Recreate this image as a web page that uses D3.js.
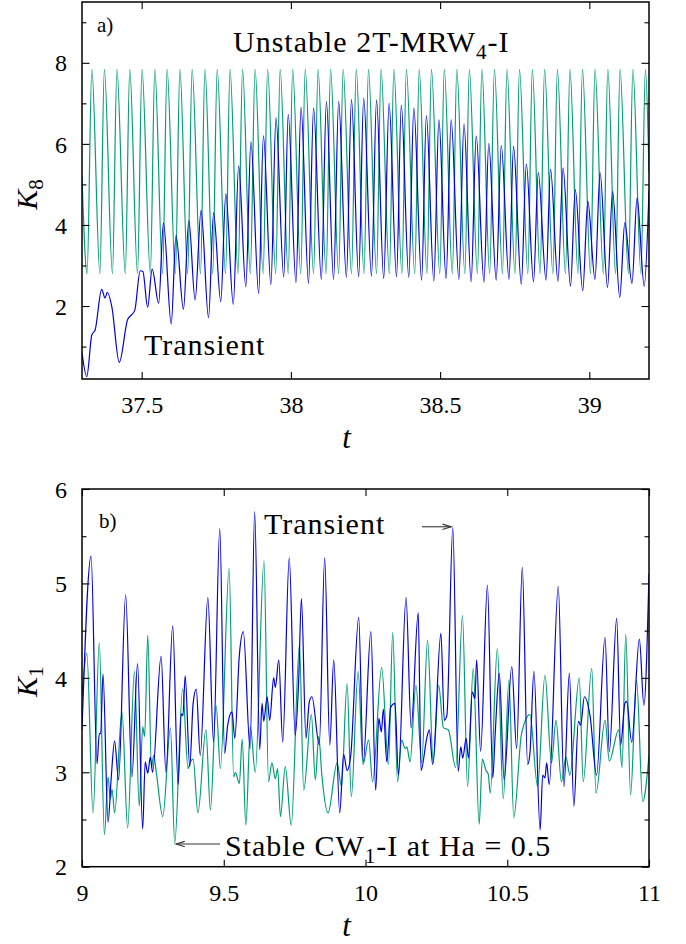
<!DOCTYPE html>
<html>
<head>
<meta charset="utf-8">
<script src="https://cdn.jsdelivr.net/npm/d3@7"></script>
<style>
  body { margin: 0; background: #fff; }
  text { font-family: "Liberation Serif", "DejaVu Serif", serif; fill: #000; }
</style>
</head>
<body>
<svg id="fig" width="686" height="944"></svg>
<script>
// ── Panel a) data: K8 vs t (peaks / troughs read off the figure) ────────────
const tTicksA  = [37.5, 38, 38.5, 39];
const kTicksA  = [2, 4, 6, 8];
const kMinorA  = [1, 3, 5, 7, 9];

// unstable 2T-MRW4-I (green)
const greenA = [[37.300,5.20],[37.317,2.80],[37.333,7.84],[37.360,2.80],[37.375,7.84],[37.402,2.80],[37.417,7.84],[37.445,2.80],[37.460,7.84],[37.486,2.80],[37.501,7.84],[37.529,2.80],[37.544,7.84],[37.570,2.80],[37.585,7.84],[37.613,2.80],[37.628,7.84],[37.654,2.80],[37.669,7.84],[37.697,2.80],[37.712,7.84],[37.738,2.80],[37.753,7.84],[37.781,2.80],[37.796,7.84],[37.823,2.80],[37.838,7.84],[37.864,2.80],[37.880,7.84],[37.907,2.80],[37.922,7.84],[37.949,2.80],[37.964,7.84],[37.991,2.80],[38.006,7.84],[38.033,2.80],[38.048,7.84],[38.076,2.80],[38.091,7.84],[38.118,2.80],[38.133,7.84],[38.160,2.80],[38.175,7.84],[38.203,2.80],[38.219,7.84],[38.245,2.80],[38.260,7.84],[38.287,2.80],[38.302,7.84],[38.330,2.80],[38.345,7.84],[38.372,2.80],[38.387,7.84],[38.415,2.80],[38.430,7.84],[38.456,2.80],[38.471,7.84],[38.499,2.80],[38.514,7.84],[38.541,2.80],[38.556,7.84],[38.583,2.80],[38.598,7.84],[38.625,2.80],[38.640,7.84],[38.666,2.80],[38.682,7.84],[38.709,2.80],[38.724,7.84],[38.751,2.80],[38.766,7.84],[38.794,2.80],[38.809,7.84],[38.835,2.80],[38.850,7.84],[38.878,2.80],[38.893,7.84],[38.920,2.80],[38.935,7.84],[38.962,2.80],[38.977,7.84],[39.004,2.80],[39.019,7.84],[39.047,2.80],[39.062,7.84],[39.088,2.80],[39.103,7.84],[39.131,2.80],[39.146,7.84],[39.173,2.80],[39.188,7.84],[39.200,5.30]];

// transient (blue)
const blueA = [[37.300,0.85],[37.316,0.26],[37.333,1.29],[37.344,1.41],[37.366,2.41],[37.377,2.20],[37.385,2.34],[37.400,1.98],[37.425,0.61],[37.453,1.67],[37.466,1.78],[37.477,1.90],[37.495,2.87],[37.504,2.85],[37.520,1.97],[37.535,2.91],[37.557,2.07],[37.573,4.05],[37.599,1.56],[37.615,3.74],[37.640,1.92],[37.658,4.11],[37.679,2.15],[37.699,4.36],[37.724,1.71],[37.741,4.30],[37.765,2.11],[37.782,4.77],[37.807,2.04],[37.825,5.46],[37.849,2.47],[37.866,6.05],[37.892,2.31],[37.908,6.20],[37.933,2.53],[37.950,6.64],[37.976,2.72],[37.991,6.72],[38.017,2.58],[38.034,6.90],[38.059,2.56],[38.076,6.88],[38.102,2.66],[38.119,7.04],[38.143,2.66],[38.160,7.04],[38.186,2.71],[38.203,7.09],[38.227,2.72],[38.244,7.13],[38.270,2.74],[38.287,7.08],[38.311,2.68],[38.329,7.00],[38.354,2.72],[38.370,6.95],[38.395,2.71],[38.412,6.88],[38.438,2.64],[38.454,6.70],[38.479,2.62],[38.496,6.59],[38.520,2.68],[38.537,6.59],[38.563,2.66],[38.580,6.49],[38.604,2.60],[38.621,6.19],[38.647,2.59],[38.663,6.01],[38.688,2.64],[38.705,5.96],[38.731,2.66],[38.746,5.94],[38.772,2.54],[38.789,5.51],[38.813,2.60],[38.829,5.29],[38.855,2.64],[38.870,5.38],[38.895,2.61],[38.912,5.41],[38.937,2.49],[38.953,4.87],[38.978,2.38],[38.995,4.59],[39.019,2.66],[39.036,5.29],[39.061,2.46],[39.078,4.83],[39.102,2.21],[39.119,4.06],[39.143,2.56],[39.160,4.67],[39.184,2.49],[39.200,4.85]];

// ── Panel b) data: K1 vs t ──────────────────────────────────────────────────
const tTicksB = [9, 9.5, 10, 10.5, 11];
const kTicksB = [2, 3, 4, 5, 6];
const kMinorB = [2.5, 3.5, 4.5, 5.5];

// stable CW1-I at Ha = 0.5 (green)
const greenB = [[9.000,3.80],[9.017,4.26],[9.039,2.57],[9.061,4.37],[9.079,2.34],[9.092,2.95],[9.100,2.72],[9.106,2.82],[9.115,2.57],[9.141,3.64],[9.161,2.41],[9.185,4.07],[9.202,2.64],[9.214,3.48],[9.221,3.38],[9.232,4.45],[9.245,3.05],[9.253,3.18],[9.262,3.00],[9.285,2.53],[9.312,3.47],[9.327,2.25],[9.355,3.88],[9.374,3.04],[9.382,3.11],[9.392,3.14],[9.409,2.57],[9.437,3.45],[9.453,2.60],[9.473,3.71],[9.488,3.04],[9.519,5.16],[9.535,2.95],[9.541,3.00],[9.555,2.88],[9.565,3.35],[9.578,2.44],[9.594,3.48],[9.611,3.00],[9.642,5.24],[9.658,2.90],[9.670,3.10],[9.682,2.93],[9.690,3.04],[9.700,2.53],[9.717,3.06],[9.738,2.44],[9.767,4.35],[9.782,2.81],[9.809,3.61],[9.823,2.92],[9.835,3.38],[9.846,2.97],[9.868,2.57],[9.900,3.10],[9.915,2.85],[9.935,3.94],[9.950,2.74],[9.974,4.07],[9.991,3.08],[10.011,3.34],[10.025,2.90],[10.057,4.11],[10.081,3.08],[10.096,4.48],[10.113,2.90],[10.128,3.34],[10.140,3.25],[10.146,3.27],[10.157,3.11],[10.178,3.92],[10.198,3.10],[10.219,4.40],[10.239,3.10],[10.258,3.92],[10.275,3.47],[10.292,3.45],[10.318,3.05],[10.342,4.66],[10.360,2.85],[10.380,4.10],[10.401,2.45],[10.412,3.14],[10.425,3.02],[10.433,2.98],[10.440,2.78],[10.465,4.31],[10.486,2.72],[10.506,3.98],[10.523,2.52],[10.550,3.40],[10.580,3.61],[10.607,2.85],[10.633,4.03],[10.656,3.10],[10.672,3.55],[10.691,2.90],[10.707,3.16],[10.721,2.97],[10.754,4.00],[10.768,2.90],[10.798,4.10],[10.813,2.78],[10.845,3.55],[10.860,3.12],[10.893,3.45],[10.905,3.05],[10.918,4.46],[10.935,2.76],[10.956,3.98],[10.978,2.69],[11.000,3.18]];

// transient (blue)
const blueB = [[9.000,3.45],[9.032,5.29],[9.053,3.09],[9.061,3.41],[9.066,3.41],[9.074,4.04],[9.092,2.47],[9.103,2.94],[9.115,3.33],[9.129,2.92],[9.154,4.88],[9.176,2.95],[9.196,4.15],[9.214,2.40],[9.223,3.11],[9.232,2.99],[9.241,3.16],[9.249,3.00],[9.279,4.23],[9.296,3.00],[9.320,4.55],[9.339,2.87],[9.350,3.62],[9.356,3.60],[9.364,4.02],[9.380,3.06],[9.392,3.73],[9.403,3.88],[9.417,3.18],[9.444,4.85],[9.464,3.32],[9.486,5.58],[9.503,3.20],[9.514,3.50],[9.529,3.64],[9.539,3.36],[9.555,4.24],[9.569,4.49],[9.593,3.25],[9.609,5.76],[9.627,3.24],[9.635,3.73],[9.641,3.54],[9.653,3.80],[9.662,3.55],[9.676,4.00],[9.682,3.90],[9.694,4.19],[9.708,3.32],[9.731,5.27],[9.752,3.39],[9.764,3.95],[9.774,4.84],[9.790,3.36],[9.802,3.75],[9.811,3.80],[9.837,3.29],[9.856,5.27],[9.874,3.29],[9.888,4.19],[9.909,2.57],[9.923,3.19],[9.935,3.02],[9.948,3.18],[9.976,4.64],[9.992,3.11],[10.019,4.49],[10.036,2.81],[10.047,3.57],[10.056,3.43],[10.063,3.67],[10.075,3.11],[10.089,3.69],[10.104,3.73],[10.116,2.97],[10.143,4.85],[10.161,3.47],[10.186,4.69],[10.196,3.02],[10.216,3.36],[10.225,3.45],[10.237,3.08],[10.266,4.47],[10.278,3.55],[10.287,3.60],[10.308,5.59],[10.327,3.01],[10.336,3.27],[10.343,3.15],[10.355,3.36],[10.363,3.15],[10.377,3.85],[10.386,3.78],[10.392,4.19],[10.406,3.22],[10.430,4.98],[10.449,2.94],[10.457,3.38],[10.472,4.05],[10.489,2.92],[10.516,4.12],[10.533,3.25],[10.553,5.17],[10.572,3.08],[10.580,3.20],[10.594,4.07],[10.616,2.39],[10.625,2.97],[10.633,2.94],[10.639,3.10],[10.648,2.87],[10.680,4.97],[10.700,2.85],[10.719,4.05],[10.735,2.64],[10.751,3.54],[10.759,3.50],[10.772,3.80],[10.792,3.60],[10.815,2.97],[10.845,4.43],[10.860,3.22],[10.886,4.63],[10.900,3.29],[10.915,3.73],[10.921,3.75],[10.939,3.32],[10.966,4.41],[10.982,3.71],[11.000,5.10]];

// ── Drawing ─────────────────────────────────────────────────────────────────
const svg   = d3.select('#fig');
const BLUE  = '#0000dd';
const GREEN = '#009e73';
const LEFT = 82, RIGHT = 649;

function panel(cfg) {
  const x = d3.scaleLinear().domain(cfg.xDomain).range([LEFT, RIGHT]);
  const y = d3.scaleLinear().domain(cfg.yDomain).range([cfg.bottom, cfg.top]);
  const g = svg.append('g');

  g.append('clipPath').attr('id', cfg.id + '-clip')
    .append('rect').attr('x', LEFT).attr('y', cfg.top)
    .attr('width', RIGHT - LEFT).attr('height', cfg.bottom - cfg.top);

  const line = d3.line().x(d => x(d[0])).y(d => y(d[1])).curve(d3.curveMonotoneX);
  const lines = g.append('g').attr('clip-path', `url(#${cfg.id}-clip)`);
  lines.append('path').datum(cfg.green).attr('d', line)
    .attr('fill', 'none').attr('stroke', GREEN).attr('stroke-width', 1.2);
  lines.append('path').datum(cfg.blue).attr('d', line)
    .attr('fill', 'none').attr('stroke', BLUE).attr('stroke-width', 1.2);

  // ticks (inward, mirrored)
  const mk = (axis, tx, ty, vals, size, labels) => {
    const a = g.append('g').attr('transform', `translate(${tx},${ty})`)
      .call(axis.tickValues(vals).tickSizeInner(-size).tickSizeOuter(0)
        .tickFormat(labels ? d3.format('') : ''));
    a.select('.domain').remove();
    a.attr('font-family', null);
    a.selectAll('line').attr('stroke-width', 1.1);
    return a;
  };
  const xb = mk(d3.axisBottom(x), 0, cfg.bottom, cfg.xTicks, 7, true);
  xb.selectAll('text').attr('y', 34).attr('dy', 0).style('font-size', '24px');
  mk(d3.axisTop(x), 0, cfg.top, cfg.xTicks, 7, false);
  const yl = mk(d3.axisLeft(y), LEFT, 0, cfg.yTicks, 7.5, true);
  yl.selectAll('text').attr('x', -15).attr('dy', '0.34em').style('font-size', '24px');
  mk(d3.axisLeft(y), LEFT, 0, cfg.yMinor, 4.5, false);
  mk(d3.axisRight(y), RIGHT, 0, cfg.yTicks, 7.5, false);
  mk(d3.axisRight(y), RIGHT, 0, cfg.yMinor, 4.5, false);

  // frame
  g.append('rect').attr('x', LEFT).attr('y', cfg.top)
    .attr('width', RIGHT - LEFT).attr('height', cfg.bottom - cfg.top)
    .attr('fill', 'none').attr('stroke', '#000').attr('stroke-width', 1.5);

  // axis titles
  g.append('text').attr('x', (LEFT + RIGHT) / 2 - 19).attr('y', cfg.bottom + 69)
    .attr('text-anchor', 'middle').style('font-size', '31px').style('font-style', 'italic').text('t');
  const yt = g.append('text')
    .attr('transform', `translate(37,${(cfg.top + cfg.bottom) / 2 + 4}) rotate(-90)`)
    .attr('text-anchor', 'middle').style('font-size', '30px');
  yt.append('tspan').style('font-style', 'italic').text('K');
  yt.append('tspan').attr('dy', 6).style('font-size', '21px').text(cfg.ySub);

  // panel letter
  g.append('text').attr('x', cfg.letterX).attr('y', cfg.letterY)
    .style('font-size', '21px').text(cfg.letter);

  return { g, x, y };
}

function arrow(g, x1, y1, x2, y2) {
  const ang = Math.atan2(y2 - y1, x2 - x1), L = 9, w = 0.3;
  g.append('line').attr('x1', x1).attr('y1', y1).attr('x2', x2).attr('y2', y2)
    .attr('stroke', '#333').attr('stroke-width', 1.1);
  g.append('path')
    .attr('d', `M${x2 - L * Math.cos(ang - w)},${y2 - L * Math.sin(ang - w)}L${x2},${y2}L${x2 - L * Math.cos(ang + w)},${y2 - L * Math.sin(ang + w)}`)
    .attr('fill', 'none').attr('stroke', '#333').attr('stroke-width', 1.1);
}

// ── Panel a ────────────────────────────────────────────────────────────────
const A = panel({
  id: 'pa', top: 2, bottom: 379, xDomain: [37.3, 39.2], yDomain: [0.2, 9.5],
  xTicks: tTicksA, yTicks: kTicksA, yMinor: kMinorA,
  green: greenA, blue: blueA, ySub: '8', letter: 'a)', letterX: 97, letterY: 32
});
const titleA = A.g.append('text').attr('x', 233).attr('y', 52)
  .style('font-size', '30px').style('letter-spacing', '1px');
titleA.append('tspan').text('Unstable 2T-MRW');
titleA.append('tspan').attr('dy', 7).style('font-size', '21px').text('4');
titleA.append('tspan').attr('dy', -7).text('-I');
A.g.append('text').attr('x', 144).attr('y', 355)
  .style('font-size', '30px').style('letter-spacing', '1px').text('Transient');

// ── Panel b ────────────────────────────────────────────────────────────────
const B = panel({
  id: 'pb', top: 489, bottom: 866.7, xDomain: [9, 11], yDomain: [2, 6],
  xTicks: tTicksB, yTicks: kTicksB, yMinor: kMinorB,
  green: greenB, blue: blueB, ySub: '1', letter: 'b)', letterX: 99, letterY: 528
});
B.g.append('text').attr('x', 264).attr('y', 534)
  .style('font-size', '30px').style('letter-spacing', '1px').text('Transient');
arrow(B.g, 422, B.y(5.6), B.x(10.302), B.y(5.6));

const st = B.g.append('text').attr('x', 225).attr('y', 856)
  .style('font-size', '30px').style('letter-spacing', '1px');
st.append('tspan').text('Stable CW');
st.append('tspan').attr('dy', 7).style('font-size', '21px').text('1');
st.append('tspan').attr('dy', -7).text('-I at Ha = 0.5');
arrow(B.g, 220, B.y(2.24), B.x(9.332), B.y(2.24));
</script>
</body>
</html>
